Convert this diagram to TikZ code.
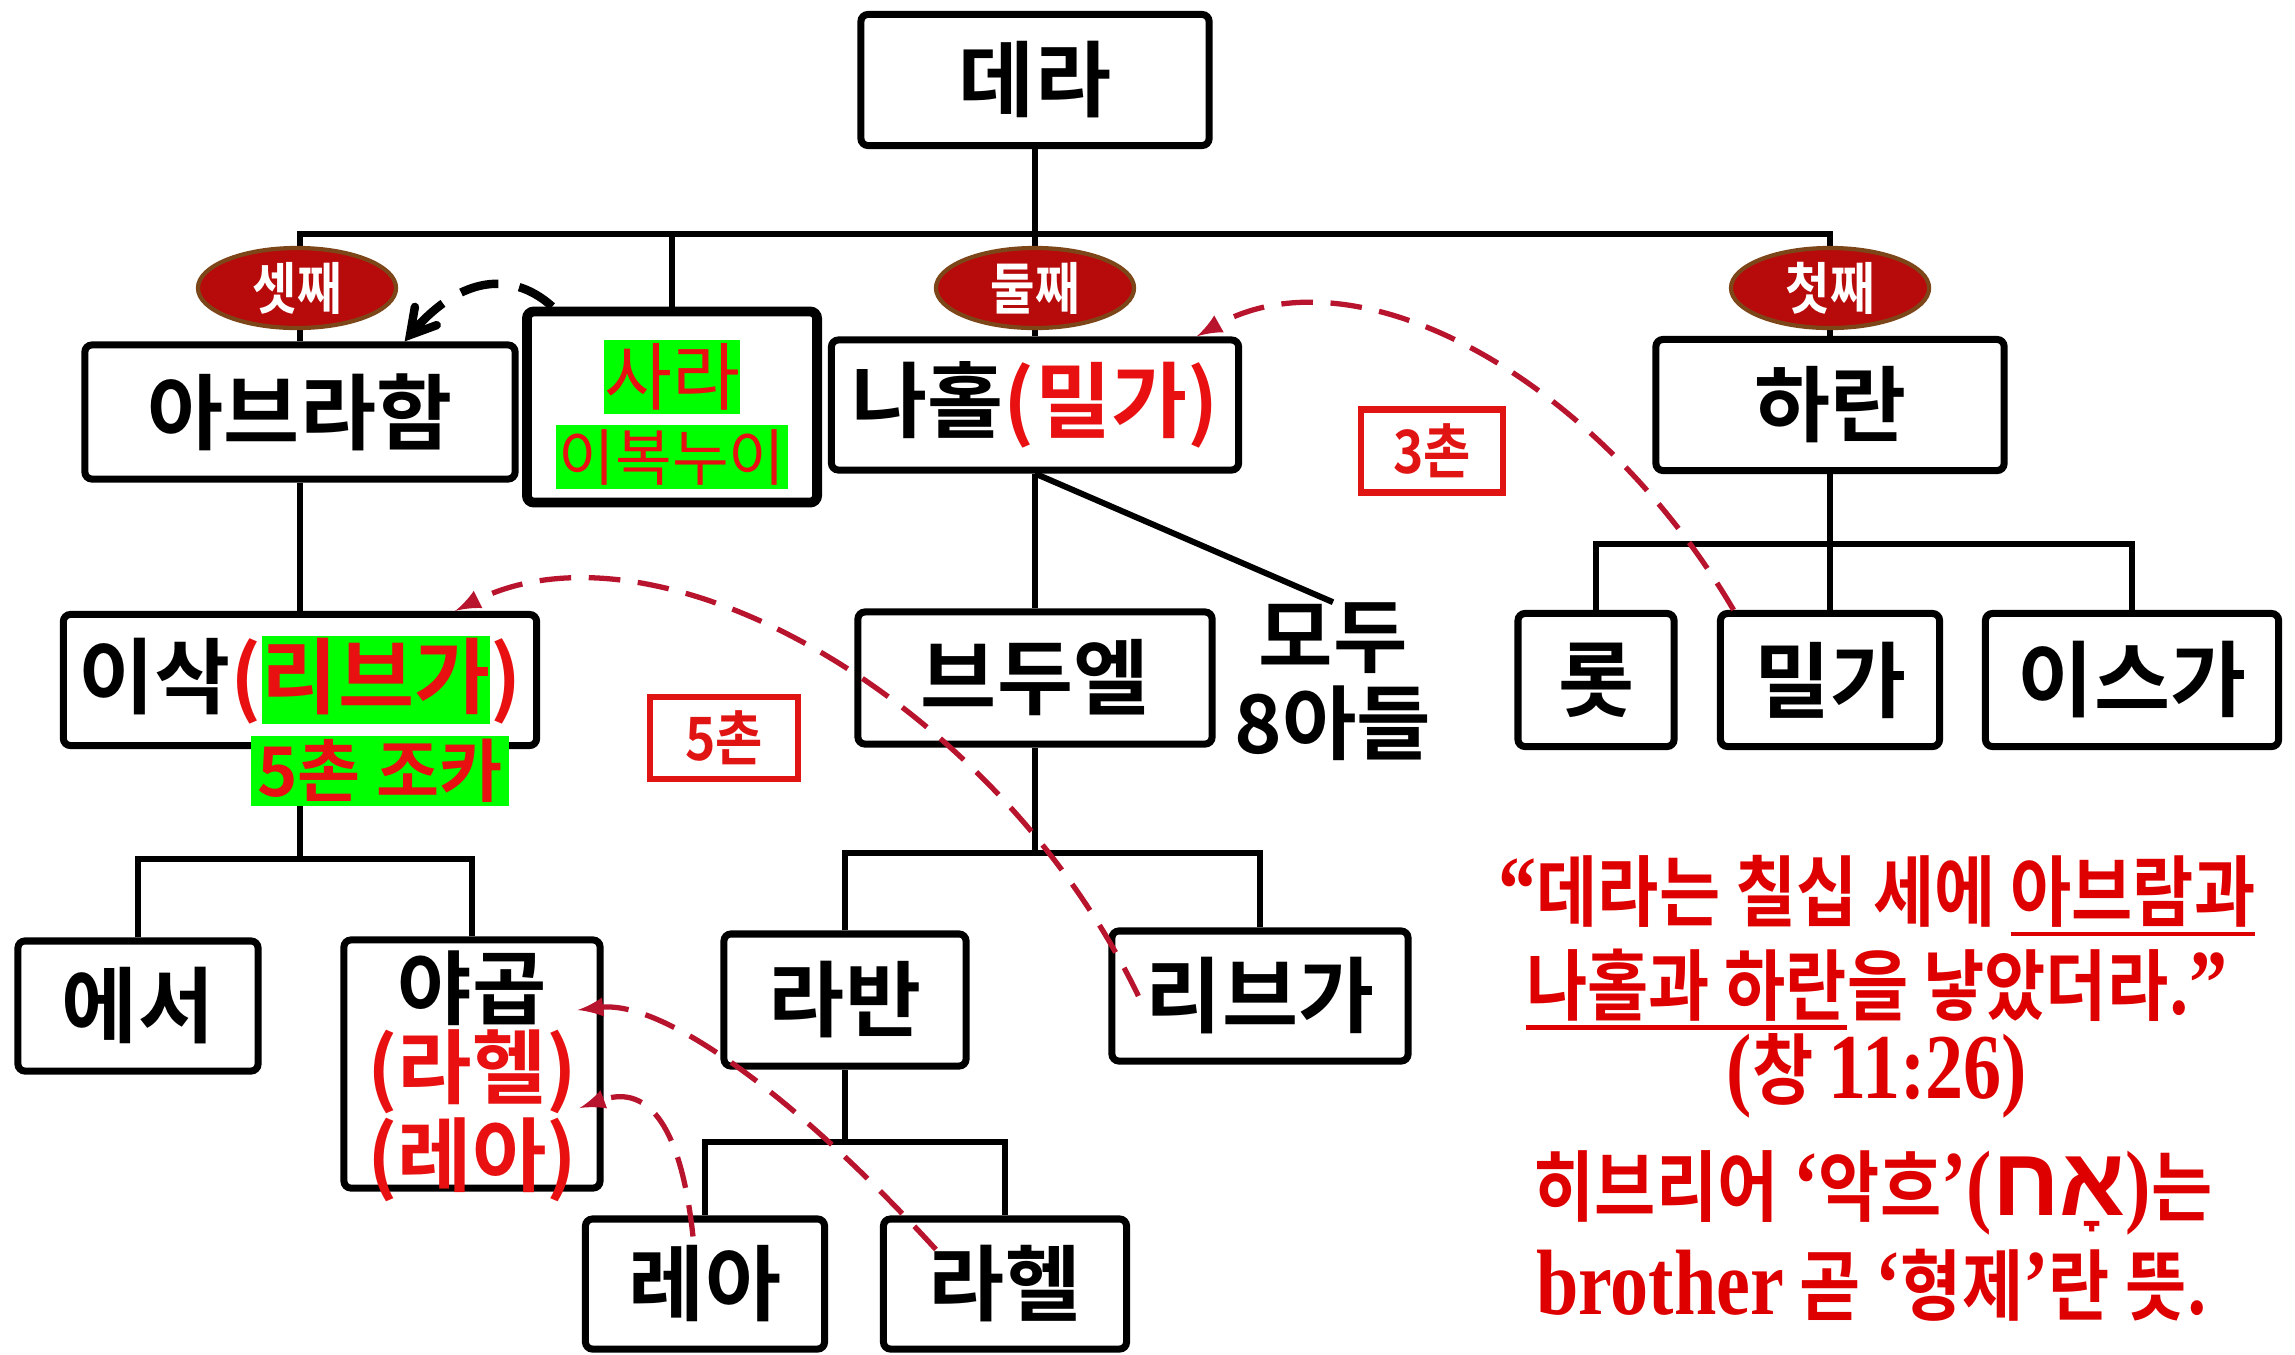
\documentclass[tikz,border=0pt]{standalone}
\usepackage{fontspec}
\setmainfont{Noto Sans CJK KR}[BoldFont={Noto Sans CJK KR Bold}]
\newfontfamily\narrowkr{Noto Sans CJK KR}[FakeStretch=0.86, BoldFont={Noto Sans CJK KR Bold}]
\newfontfamily\lat{Liberation Serif}[FakeStretch=0.82, Scale=1.2]
\newfontfamily\hebfont[Script=Hebrew, Scale=1.25]{Liberation Sans}
\TeXXeTstate=1
\usetikzlibrary{arrows,shapes,shapes.geometric,calc}
\definecolor{txtred}{RGB}{232,16,16}
\definecolor{headred}{RGB}{222,0,0}
\definecolor{hlgreen}{RGB}{0,255,0}
\definecolor{ovalred}{RGB}{183,10,10}
\definecolor{ovalrim}{RGB}{125,70,25}
\definecolor{kinred}{RGB}{185,20,45}
\definecolor{chonred}{RGB}{225,20,20}
\newcommand{\redtxt}[1]{\textcolor{txtred}{#1}}
\newcommand{\greenbg}[1]{{\setlength{\fboxsep}{0pt}\colorbox{hlgreen}{\rule[-0.2em]{0pt}{1.07em}#1}}}
\newcommand{\thickul}[1]{\setbox0=\hbox{#1}\rlap{\rule[-0.2em]{\wd0}{0.06em}}\box0}

\begin{document}
\begin{tikzpicture}[x=0.01cm, y=-0.01cm,
    person/.style={draw, line width=2pt, rounded corners=2pt, inner sep=0pt, minimum height=1.31cm, font=\bfseries\fontsize{23.5pt}{25pt}\selectfont},
    order/.style={ellipse, draw=ovalrim, line width=1.2pt, fill=ovalred, text=white, minimum width=1.98cm, minimum height=0.8cm, inner sep=0pt, font=\narrowkr\bfseries\fontsize{16pt}{18pt}\selectfont},
    greenlabel/.style={fill=hlgreen, text=txtred, inner sep=0pt},
    chon/.style={draw=chonred, line width=1.8pt, text=chonred, inner sep=0pt, font=\narrowkr\bfseries\fontsize{17pt}{19pt}\selectfont},
    famline/.style={line width=1.7pt},
    kin/.style={draw=kinred, line width=1.5pt, dash pattern=on 9pt off 5pt, -latex},
    bigkin/.style={draw=black, line width=2.4pt, dash pattern=on 11pt off 6pt, -angle 60},
    verse/.style={text=headred, inner sep=0pt, font=\narrowkr\bfseries\fontsize{22pt}{25pt}\selectfont}]
        \useasboundingbox (0,0) rectangle (2295,1354);
        %nodes
        \node[person, minimum width=3.48cm] (terah) at (1035,80) {데라};
        \node[person, minimum width=4.30cm, minimum height=1.34cm] (abraham) at (300,412) {아브라함};
        \node[person, minimum width=2.90cm, minimum height=1.91cm, line width=2.8pt] (sara) at (672,407) {};
        \node[person, minimum width=4.07cm, minimum height=1.30cm] (nahor) at (1035,405) {나홀\redtxt{(밀가)}};
        \node[person, minimum width=3.48cm] (haran) at (1830,405) {하란};
        \node[person, minimum width=4.73cm] (isaac) at (300,680) {이삭\redtxt{(\greenbg{리브가})}};
        \node[person, minimum width=3.54cm, minimum height=1.32cm] (betuel) at (1035,678) {브두엘};
        \node[align=center, inner sep=0pt, font=\bfseries\fontsize{23pt}{24.8pt}\selectfont] (sons) at (1333,682) {모두\\8아들};
        \node[person, minimum width=1.56cm, minimum height=1.33cm] (lot) at (1596,680) {롯};
        \node[person, minimum width=2.19cm, minimum height=1.33cm] (milcah) at (1830,680) {밀가};
        \node[person, minimum width=2.93cm, minimum height=1.33cm] (iscah) at (2132,680) {이스가};
        \node[person, minimum width=2.40cm, minimum height=1.30cm] (esau) at (138,1006) {에서};
        \node[person, minimum width=2.56cm, minimum height=2.48cm] (jacob) at (472,1064) {};
        \node[align=center, inner sep=0pt, font=\bfseries\fontsize{23pt}{22.5pt}\selectfont] (jacobtext) at (472,1076) {야곱\\\redtxt{(라헬)}\\\redtxt{(레아)}};
        \node[person, minimum width=2.42cm, minimum height=1.32cm] (laban) at (845,1000) {라반};
        \node[person, minimum width=2.96cm, minimum height=1.30cm] (rebekah) at (1260,996) {리브가};
        \node[person, minimum width=2.39cm, minimum height=1.30cm] (leah) at (705,1284) {레아};
        \node[person, minimum width=2.43cm, minimum height=1.30cm] (rachel) at (1005,1284) {라헬};
        %bars
        \coordinate (topbar) at (0,234);
        \coordinate (harbar) at (0,544);
        \coordinate (isaacbar) at (0,859);
        \coordinate (betbar) at (0,853);
        \coordinate (labbar) at (0,1142);
        %lines
        \draw[famline] (terah) -- (nahor);
        \draw[famline] (abraham.north) |- (haran.north |- topbar) -- (haran.north);
        \draw[famline] (sara.north) -- (sara.north |- topbar);
        \draw[famline] (abraham) -- (isaac);
        \draw[famline] (isaac.south) -- (isaac.south |- isaacbar);
        \draw[famline] (esau.north) |- (jacob.north |- isaacbar) -- (jacob.north);
        \draw[famline] (nahor) -- (betuel);
        \draw[famline] (nahor.south) -- (sons.north);
        \draw[famline] (betuel.south) -- (betuel.south |- betbar);
        \draw[famline] (laban.north) |- (rebekah.north |- betbar) -- (rebekah.north);
        \draw[famline] (laban.south) -- (laban.south |- labbar);
        \draw[famline] (leah.north) |- (rachel.north |- labbar) -- (rachel.north);
        \draw[famline] (haran) -- (milcah);
        \draw[famline] (lot.north) |- (iscah.north |- harbar) -- (iscah.north);
        %birth order
        \node[order] (third) at (297,288) {셋째};
        \node[order] (second) at (1035,288) {둘째};
        \node[order] (first) at (1830,288) {첫째};
        %labels
        \node[greenlabel, minimum width=1.33cm, minimum height=0.74cm, font=\fontsize{21pt}{23pt}\selectfont] (saraname) at (672,377) {사라};
        \node[greenlabel, minimum width=2.31cm, minimum height=0.63cm, font=\fontsize{17.5pt}{19pt}\selectfont] (sarahalf) at (672,457) {이복누이};
        \node[greenlabel, minimum width=2.58cm, minimum height=0.70cm, font=\bfseries\fontsize{19.5pt}{21pt}\selectfont] (niece) at (380,771) {5촌 조카};
        \node[chon, minimum width=1.42cm, minimum height=0.83cm] (chon3) at (1432,451) {3촌};
        \node[chon, minimum width=1.48cm, minimum height=0.82cm] (chon5) at (724,738) {5촌};
        %verse
        \node[verse] (verse1) at (1877,896) {{\lat“}데라는 칠십 세에 \thickul{아브람과}};
        \node[verse] (verse2) at (1877,989) {\thickul{나홀과 하란}을 낳았더라.{\lat”}};
        \node[verse] (verse3) at (1877,1076) {{\lat(}창 {\lat 11:26)}};
        \node[verse] (hebrew1) at (1873,1193) {히브리어 {\lat‘}악흐{\lat’}{\lat(}{\hebfont\beginR אָח\endR}{\lat)}는};
        \node[verse] (hebrew2) at (1872,1285) {{\lat brother} 곧 {\lat‘}형제{\lat’}란 뜻.};
        %edges
        \path[kin] (milcah.144) .. controls +(-137,-233) and +(160,-90) .. (nahor.23);
        \path[kin] ([shift={(30,0)}]rebekah.west) .. controls +(-142,-295) and +(204,-102) .. (isaac.24);
        \path[kin] ([shift={(56,34)}]rachel.north west) .. controls +(-140,-153) and +(86,-10) .. ([shift={(-26,-54)}]jacob.east);
        \path[kin] ([shift={(-12,21)}]leah.north) .. controls +(-13,-120) and +(64,-23) .. ([shift={(-24,44)}]jacob.east);
        \path[bigkin] (sara.140) .. controls +(-45,-40) and +(50,-60) .. (abraham.34);
\end{tikzpicture}
\end{document}
